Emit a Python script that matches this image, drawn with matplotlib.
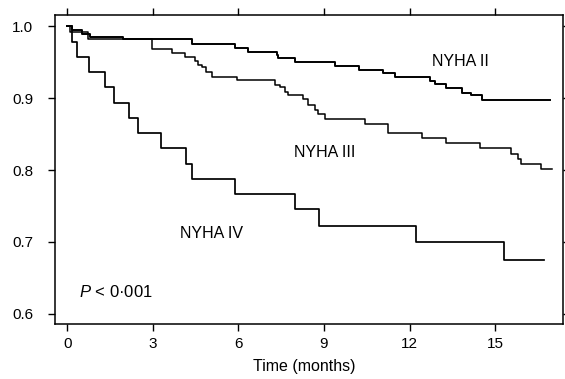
"""Kaplan-Meier style survival curves by NYHA class."""

import matplotlib

matplotlib.use("Agg")
import matplotlib.pyplot as plt
import numpy as np

plt.rcParams["font.family"] = ["Liberation Sans", "DejaVu Sans"]
plt.rcParams["mathtext.fontset"] = "custom"
plt.rcParams["mathtext.rm"] = "Liberation Sans"
plt.rcParams["mathtext.it"] = "Liberation Sans:italic"

# step times (months) and survival after each step
nyha2_t = [0.0, 0.15, 0.5, 0.8, 1.96, 4.36, 5.88, 6.34, 7.34, 7.39, 7.98, 9.38,
           10.23, 11.07, 11.48, 12.71, 12.88, 13.27, 13.85, 14.17, 14.55]
nyha2_s = [1.0, 0.995, 0.990, 0.986, 0.982, 0.976, 0.970, 0.965, 0.960, 0.956,
           0.950, 0.945, 0.940, 0.935, 0.930, 0.924, 0.920, 0.914, 0.908, 0.904,
           0.898]
nyha2_end = 16.91

nyha3_t = [0.0, 0.1, 0.74, 2.96, 3.66, 4.13, 4.48, 4.59, 4.71, 4.86, 5.06, 5.96,
           7.28, 7.45, 7.63, 7.74, 8.27, 8.44, 8.68, 8.80, 9.03, 10.43, 11.25,
           12.42, 13.29, 14.46, 15.57, 15.80, 15.92, 16.62]
nyha3_s = [1.0, 0.992, 0.983, 0.969, 0.963, 0.957, 0.952, 0.947, 0.943, 0.937,
           0.930, 0.925, 0.919, 0.915, 0.909, 0.905, 0.899, 0.891, 0.884, 0.878,
           0.871, 0.864, 0.852, 0.844, 0.837, 0.830, 0.823, 0.816, 0.809, 0.802]
nyha3_end = 17.0

nyha4_t = [0.0, 0.16, 0.33, 0.77, 1.32, 1.64, 2.18, 2.49, 3.27, 4.15, 4.36, 5.88,
           7.98, 8.83, 12.22, 15.30]
nyha4_s = [1.0, 0.979, 0.958, 0.937, 0.915, 0.894, 0.873, 0.851, 0.830, 0.808,
           0.787, 0.766, 0.745, 0.722, 0.699, 0.674]
nyha4_end = 16.73

x_ticks = [0, 3, 6, 9, 12, 15]
y_ticks = [0.6, 0.7, 0.8, 0.9, 1.0]


def _step(ax, t, s, t_end, lw):
    ax.step(np.append(t, t_end), np.append(s, s[-1]), where="post",
            color="black", linewidth=lw)


fig = plt.figure(figsize=(5.65, 3.79), dpi=100)
ax = fig.add_axes([0.0973, 0.1451, 0.8992, 0.8153])

_step(ax, nyha2_t, nyha2_s, nyha2_end, 1.4)
_step(ax, nyha3_t, nyha3_s, nyha3_end, 1.1)
_step(ax, nyha4_t, nyha4_s, nyha4_end, 1.25)

ax.text(13.79, 0.951, "NYHA II", fontsize=11.5, ha="center", va="center")
ax.text(9.03, 0.824, "NYHA III", fontsize=11.5, ha="center", va="center")
ax.text(5.05, 0.712, "NYHA IV", fontsize=11.5, ha="center", va="center")
ax.text(1.69, 0.630, r"$\it{P}$" + " < 0\u00b7001", fontsize=12,
        ha="center", va="center")

ax.set_xlim(-0.43, 17.38)
ax.set_ylim(0.5854, 1.016)
ax.set_xticks(x_ticks)
ax.set_yticks(y_ticks)
ax.set_yticklabels([f"{v:.1f}" for v in y_ticks])
ax.set_xlabel("Time (months)", fontsize=11.5)
ax.xaxis.set_label_coords(0.49, -0.112)

ax.tick_params(direction="out", length=5, width=1.0, labelsize=11,
               top=True, right=True)
ax.tick_params(axis="y", pad=10.5)
ax.tick_params(axis="x", pad=4)
for sp in ax.spines.values():
    sp.set_linewidth(1.1)

fig.savefig("out.png", dpi=100)
